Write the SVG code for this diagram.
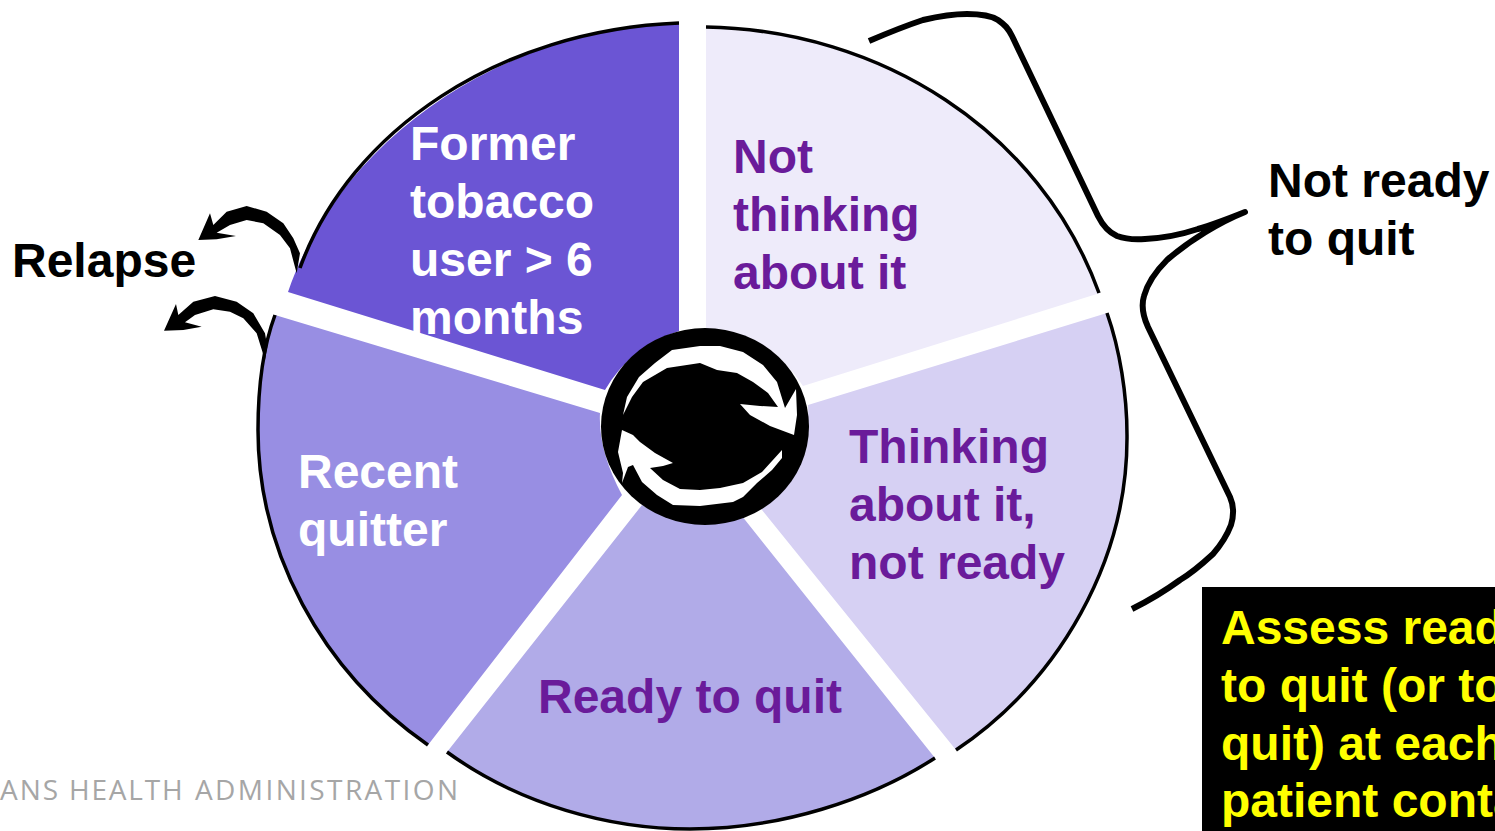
<svg xmlns="http://www.w3.org/2000/svg" width="1495" height="831" viewBox="0 0 1495 831">
<style>
.t{font-family:"Liberation Sans",Arial,sans-serif;font-weight:700;font-size:48px}
.w{fill:#fff}.p{fill:#6a1b9a}.k{fill:#000}
.o{fill:none;stroke:#000;stroke-width:3.500}
.b{fill:none;stroke:#000;stroke-width:6;stroke-linecap:butt;stroke-linejoin:round}
</style>
<rect width="1495" height="831" fill="#fff"/>
<g id="seg-former"><path d="M679 22V331Q630 347 605 390L288 292C340 140 500 30 679 22Z" fill="#6b55d4"/><path class="o" d="M679 23C500 30 350 130 300 268"/></g>
<g id="seg-not-thinking"><path d="M706 26V329Q770 335 803 386L1100 293C1040 130 880 30 706 26Z" fill="#eeebfa"/><path class="o" d="M706 27C880 30 1040 130 1099 293"/></g>
<g id="seg-thinking"><path d="M1107 313L808 405Q812 470 754 500L956 750C1060 680 1128 560 1127 435C1127 395 1120 350 1107 313Z" fill="#d6d0f3"/><path class="o" d="M1107 313C1120 350 1127 395 1127 435C1128 560 1060 680 956 750"/></g>
<g id="seg-ready"><path d="M935 758L726 496Q690 535 642 505L447 752C520 805 610 829 690 829C780 829 870 800 935 758Z" fill="#b1abe8"/><path class="o" d="M935 758C870 800 780 829 690 829C610 829 520 805 447 752"/></g>
<g id="seg-recent"><path d="M428 745L622 495Q598 450 600 413L275 315C262 350 258 395 258 430C258 550 320 670 428 745Z" fill="#988ee3"/><path class="o" d="M275 315C262 350 258 395 258 430C258 550 320 670 428 745"/></g>
<g id="hub"><ellipse cx="705" cy="426.500" rx="104" ry="98.500" fill="#000"/>
<g fill="#fff"><polygon points="623,415 627,397 639,377 655,363 672,350 700,346 720,346 743,352 763,365 777,382 785,408 796,389 797,415 794,435 770,426 750,415 740,404 760,406 778,407 768,393 753,382 737,373 717,370 700,363 667,368 643,382 632,397"/><polygon points="622,430 633,435 640,442 655,453 673,463 663,466 650,468 663,480 680,489 700,490 720,488 743,483 762,472 782,450 782,458 772,470 757,483 743,497 733,502 700,506 673,505 657,495 642,482 633,465 628,467 622,483 623,473 618,452"/></g></g>
<g id="connectors">
<g transform="translate(150 190) scale(.3333)" fill="#000">
<polygon id="relapse-1" points="145,150 180,70 190,105 230,65 290,48 350,65 400,100 430,145 450,190 440,250 420,175 390,135 340,100 290,90 240,105 200,128 258,138 200,148"/>
<polygon id="relapse-2" points="42,422 78,342 85,375 130,335 195,318 260,335 310,370 345,430 352,470 345,510 320,430 280,385 240,365 190,358 135,375 105,397 155,410 100,420"/>
</g>
<path id="brace" class="b" d="M869 41C890 32 905 26 923 20C940 16 955 14 967 14C980 14 990 15 998 20C1005 25 1008 28 1012 36L1098 216C1102 224 1108 232 1117 236C1125 239 1132 240 1145 239C1165 238 1180 235 1198 229C1215 224 1230 218 1245 212C1220 222 1190 240 1167 260C1155 272 1147 285 1144 296C1141 306 1143 316 1148 327L1230 497C1234 506 1234 515 1231 525C1226 538 1220 546 1213 554C1200 566 1190 574 1180 580C1165 591 1150 600 1132 609"/>
</g>
<g id="label-former"><text class="t w" x="410" y="160">Former</text><text class="t w" x="410" y="218">tobacco</text><text class="t w" x="410" y="276">user &gt; 6</text><text class="t w" x="410" y="334">months</text></g>
<g id="label-not"><text class="t p" x="733" y="173">Not</text><text class="t p" x="733" y="231">thinking</text><text class="t p" x="733" y="289">about it</text></g>
<g id="label-thinking"><text class="t p" x="849" y="463">Thinking</text><text class="t p" x="849" y="521">about it,</text><text class="t p" x="849" y="579">not ready</text></g>
<g id="label-ready"><text class="t p" x="538" y="713">Ready to quit</text></g>
<g id="label-recent"><text class="t w" x="298" y="488">Recent</text><text class="t w" x="298" y="546">quitter</text></g>
<g id="label-relapse"><text class="t k" x="12" y="277">Relapse</text></g>
<g id="label-notready"><text class="t k" x="1268" y="197">Not ready</text><text class="t k" x="1268" y="255">to quit</text></g>
<g id="note"><rect x="1202" y="587" width="293" height="244" fill="#000"/><g fill="#ff0"><text class="t" x="1221" y="644">Assess read</text><text class="t" x="1221" y="702">to quit (or to</text><text class="t" x="1221" y="760">quit) at each</text><text class="t" x="1221" y="817">patient conta</text></g></g>
<text id="footer" y="800" font-family="'Open Sans',sans-serif" font-size="28" fill="#a6a6a6"><tspan x="0" letter-spacing="2">ANS </tspan><tspan x="69" letter-spacing="1.800">HEALTH </tspan><tspan x="195" letter-spacing="2.400">ADMINISTRATION</tspan></text>
</svg>
